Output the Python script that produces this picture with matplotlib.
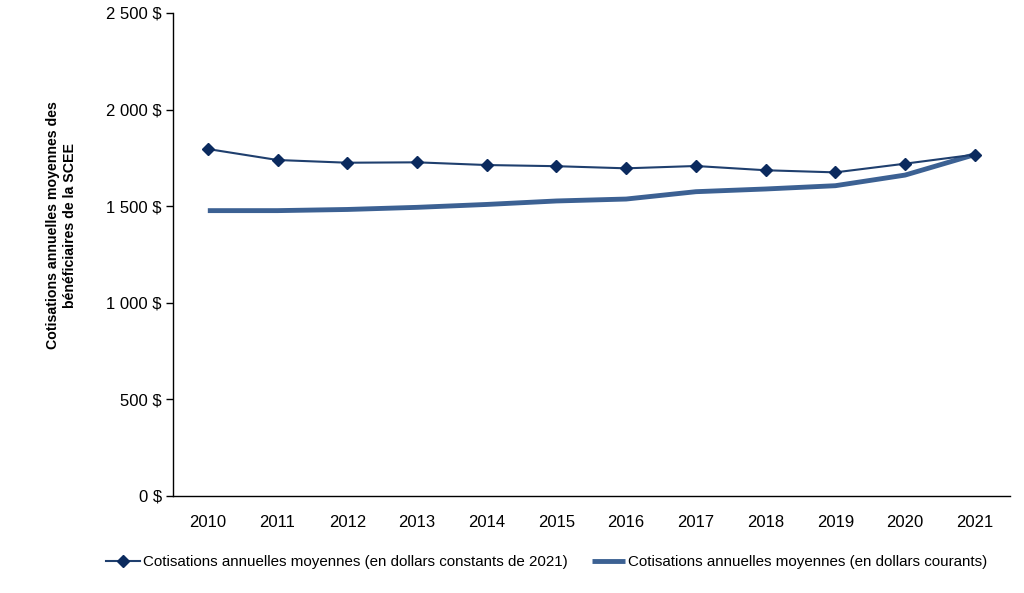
import matplotlib
matplotlib.use("Agg")
import matplotlib.pyplot as plt
from matplotlib.ticker import FuncFormatter, FixedLocator

years = ["2010", "2011", "2012", "2013", "2014", "2015", "2016", "2017", "2018", "2019", "2020", "2021"]
constant_2021 = [1796, 1739, 1725, 1727, 1713, 1707, 1696, 1708, 1686, 1675, 1720, 1767]
current = [1477, 1477, 1483, 1494, 1509, 1527, 1537, 1575, 1589, 1606, 1661, 1767]
label_const = "Cotisations annuelles moyennes (en dollars constants de 2021)"
label_curr = "Cotisations annuelles moyennes (en dollars courants)"
ylabel = "Cotisations annuelles moyennes des\nbénéficiaires de la SCEE"

plt.rcParams['font.family'] = ['Liberation Sans', 'DejaVu Sans']

fig = plt.figure(figsize=(10.24, 5.93), dpi=100)
ax = fig.add_axes([0.1689, 0.1636, 0.8171, 0.8145])

x = list(range(len(years)))
ax.plot(x, constant_2021, color="#1F3F6E", lw=1.5, marker="D", ms=6.5,
        markerfacecolor="#0B2A5E", markeredgecolor="#0B2A5E", label=label_const, zorder=3)
ax.plot(x, current, color="#3C6193", lw=3.5, label=label_curr, solid_capstyle="butt", zorder=2)

ax.set_xlim(-0.5, len(years) - 0.5)
ax.set_ylim(0, 2500)
ax.set_xticks(x)
ax.set_xticklabels(years, fontsize=12)
ax.yaxis.set_major_locator(FixedLocator([0, 500, 1000, 1500, 2000, 2500]))

def fmt(v, pos):
    s = f"{int(v):,}".replace(",", "\u00a0")
    return s + "\u00a0$"
ax.yaxis.set_major_formatter(FuncFormatter(fmt))
ax.tick_params(axis="y", labelsize=12, length=5, width=1, color="black", pad=3)
ax.tick_params(axis="x", length=0, pad=14)

for s in ["top", "right"]:
    ax.spines[s].set_visible(False)
ax.spines["left"].set_linewidth(1)
ax.spines["bottom"].set_linewidth(1)

fig.text(0.06, 0.62, ylabel, rotation=90, ha="center", va="center",
         fontsize=10.2, fontweight="bold", linespacing=1.3)

leg = fig.legend(loc="center", bbox_to_anchor=(0.534, 0.052), ncol=2, frameon=False,
                 fontsize=10.9, handlelength=2.2, handletextpad=0.2, columnspacing=1.6)

fig.savefig("out.png", dpi=100)
